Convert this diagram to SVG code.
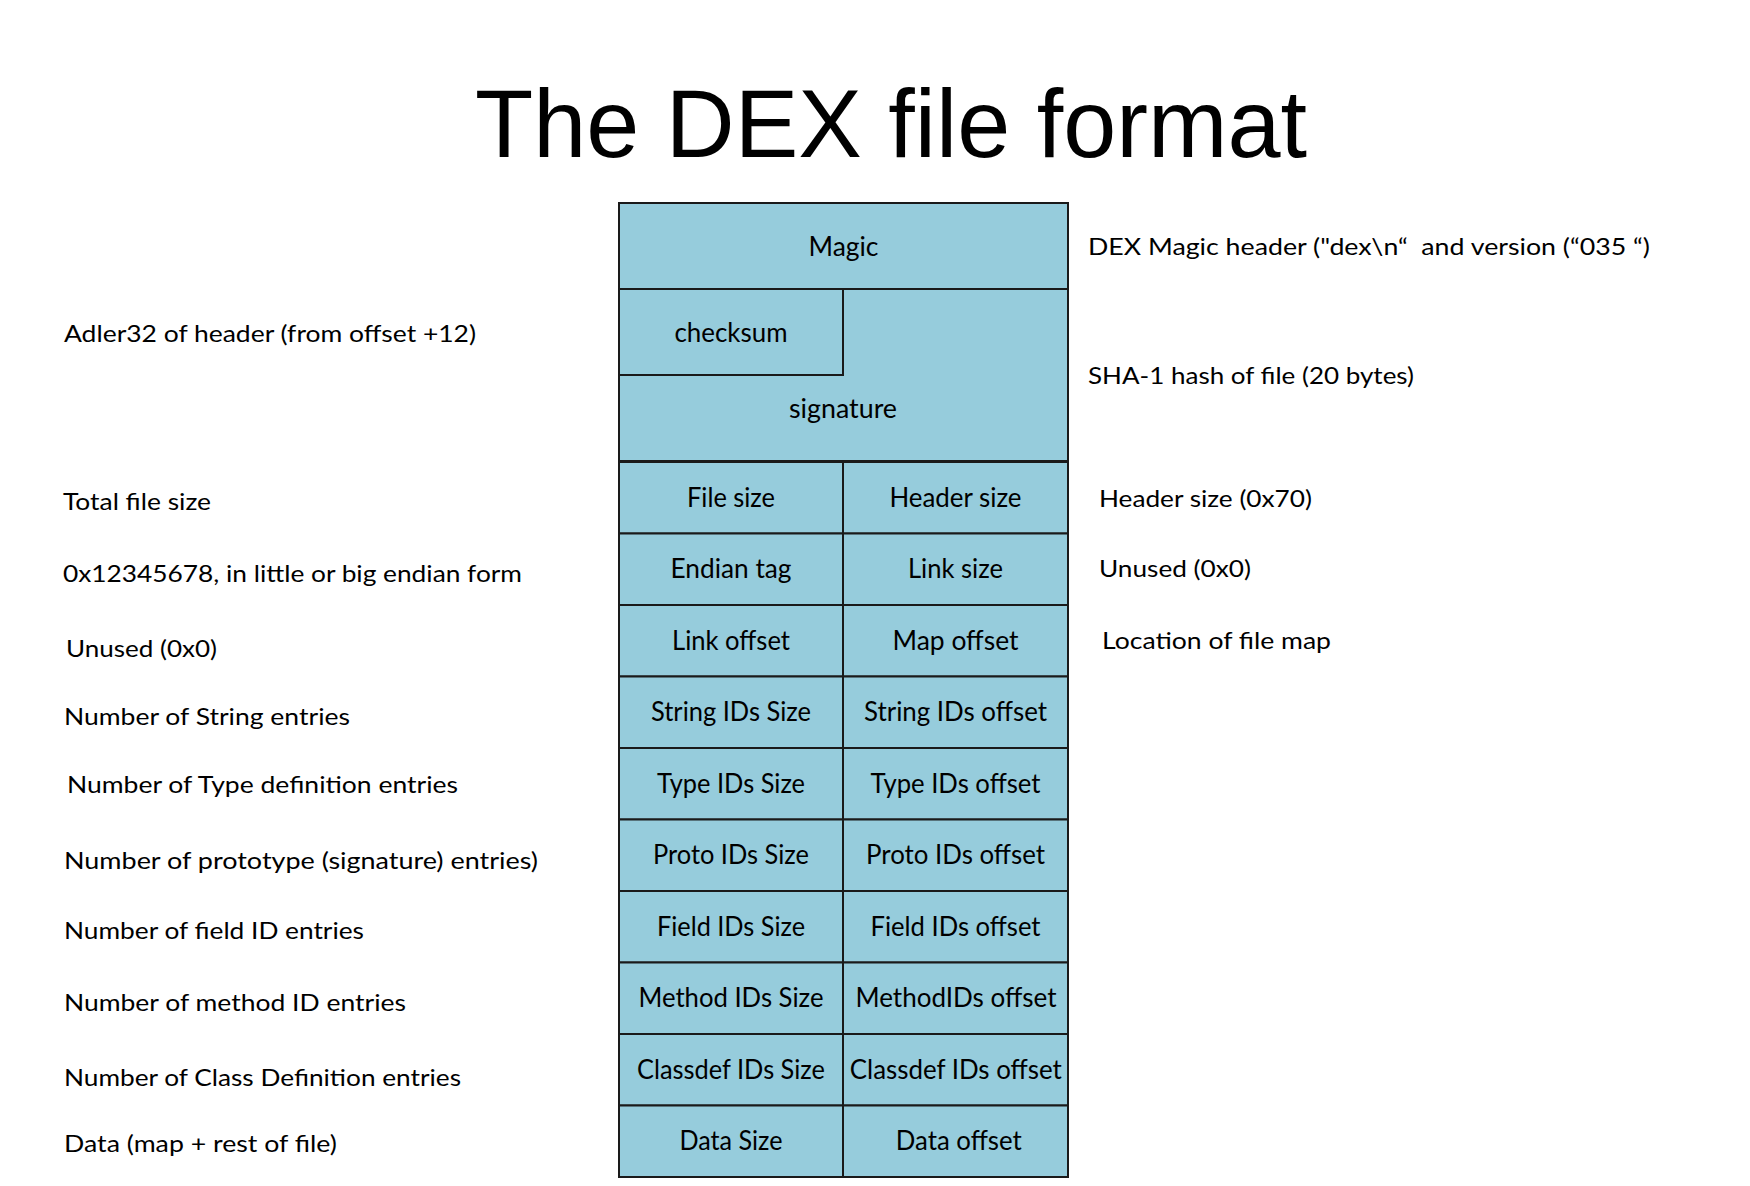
<svg xmlns="http://www.w3.org/2000/svg" width="1750" height="1186" viewBox="0 0 1750 1186">
<style>
.cell{fill:#96CCDC;stroke:#1a1a1a;stroke-width:2}
.ct{font-family:Lato,"Open Sans","Liberation Sans",sans-serif;font-size:26px;fill:#000;text-anchor:middle}
.lb{font-family:Lato,"Open Sans","Liberation Sans",sans-serif;font-size:24px;fill:#000}
.title{font-family:"Liberation Sans",Arial,sans-serif;font-size:96px;fill:#000}
</style>
<rect width="1750" height="1186" fill="#ffffff"/>
<text class="title" x="475" y="157" textLength="832" lengthAdjust="spacingAndGlyphs">The DEX file format</text>

<g id="magic"><rect class="cell" x="619" y="203" width="449" height="86"/><text class="ct" x="843.5" y="256" textLength="70" lengthAdjust="spacingAndGlyphs">Magic</text></g>
<g id="signature"><path class="cell" d="M619,375 L843,375 L843,289 L1068,289 L1068,461 L619,461 Z"/><text class="ct" x="843" y="418" textLength="108" lengthAdjust="spacingAndGlyphs">signature</text></g>
<g id="checksum"><rect class="cell" x="619" y="289" width="224" height="86"/><text class="ct" x="731" y="342" textLength="113" lengthAdjust="spacingAndGlyphs">checksum</text></g>

<g id="file-size"><rect class="cell" x="619" y="462" width="224" height="71.5"/><text class="ct" x="731" y="506.7" textLength="88" lengthAdjust="spacingAndGlyphs">File size</text></g>
<g id="header-size"><rect class="cell" x="843" y="462" width="225" height="71.5"/><text class="ct" x="955.5" y="506.7" textLength="132" lengthAdjust="spacingAndGlyphs">Header size</text></g>
<g id="endian-tag"><rect class="cell" x="619" y="533.5" width="224" height="71.5"/><text class="ct" x="731" y="578.2" textLength="121" lengthAdjust="spacingAndGlyphs">Endian tag</text></g>
<g id="link-size"><rect class="cell" x="843" y="533.5" width="225" height="71.5"/><text class="ct" x="955.5" y="578.2" textLength="95" lengthAdjust="spacingAndGlyphs">Link size</text></g>
<g id="link-offset"><rect class="cell" x="619" y="605" width="224" height="71.5"/><text class="ct" x="731" y="649.7" textLength="118" lengthAdjust="spacingAndGlyphs">Link offset</text></g>
<g id="map-offset"><rect class="cell" x="843" y="605" width="225" height="71.5"/><text class="ct" x="955.5" y="649.7" textLength="126" lengthAdjust="spacingAndGlyphs">Map offset</text></g>
<g id="string-ids-size"><rect class="cell" x="619" y="676.5" width="224" height="71.5"/><text class="ct" x="731" y="721.2" textLength="160" lengthAdjust="spacingAndGlyphs">String IDs Size</text></g>
<g id="string-ids-offset"><rect class="cell" x="843" y="676.5" width="225" height="71.5"/><text class="ct" x="955.5" y="721.2" textLength="183" lengthAdjust="spacingAndGlyphs">String IDs offset</text></g>
<g id="type-ids-size"><rect class="cell" x="619" y="748" width="224" height="71.5"/><text class="ct" x="731" y="792.7" textLength="148" lengthAdjust="spacingAndGlyphs">Type IDs Size</text></g>
<g id="type-ids-offset"><rect class="cell" x="843" y="748" width="225" height="71.5"/><text class="ct" x="955.5" y="792.7" textLength="170" lengthAdjust="spacingAndGlyphs">Type IDs offset</text></g>
<g id="proto-ids-size"><rect class="cell" x="619" y="819.5" width="224" height="71.5"/><text class="ct" x="731" y="864.2" textLength="156" lengthAdjust="spacingAndGlyphs">Proto IDs Size</text></g>
<g id="proto-ids-offset"><rect class="cell" x="843" y="819.5" width="225" height="71.5"/><text class="ct" x="955.5" y="864.2" textLength="179" lengthAdjust="spacingAndGlyphs">Proto IDs offset</text></g>
<g id="field-ids-size"><rect class="cell" x="619" y="891" width="224" height="71.5"/><text class="ct" x="731" y="935.7" textLength="148" lengthAdjust="spacingAndGlyphs">Field IDs Size</text></g>
<g id="field-ids-offset"><rect class="cell" x="843" y="891" width="225" height="71.5"/><text class="ct" x="955.5" y="935.7" textLength="170" lengthAdjust="spacingAndGlyphs">Field IDs offset</text></g>
<g id="method-ids-size"><rect class="cell" x="619" y="962.5" width="224" height="71.5"/><text class="ct" x="731" y="1007.2" textLength="185" lengthAdjust="spacingAndGlyphs">Method IDs Size</text></g>
<g id="method-ids-offset"><rect class="cell" x="843" y="962.5" width="225" height="71.5"/><text class="ct" x="956" y="1007.2" textLength="201" lengthAdjust="spacingAndGlyphs">MethodIDs offset</text></g>
<g id="classdef-ids-size"><rect class="cell" x="619" y="1034" width="224" height="71.5"/><text class="ct" x="731" y="1078.7" textLength="188" lengthAdjust="spacingAndGlyphs">Classdef IDs Size</text></g>
<g id="classdef-ids-offset"><rect class="cell" x="843" y="1034" width="225" height="71.5"/><text class="ct" x="955.8" y="1078.7" textLength="212" lengthAdjust="spacingAndGlyphs">Classdef IDs offset</text></g>
<g id="data-size"><rect class="cell" x="619" y="1105.5" width="224" height="71.5"/><text class="ct" x="731" y="1150.2" textLength="103" lengthAdjust="spacingAndGlyphs">Data Size</text></g>
<g id="data-offset"><rect class="cell" x="843" y="1105.5" width="225" height="71.5"/><text class="ct" x="958.8" y="1150.2" textLength="126" lengthAdjust="spacingAndGlyphs">Data offset</text></g>

<g id="connectors"></g>

<g id="labels-left">
<text class="lb" x="64" y="342" textLength="412" lengthAdjust="spacingAndGlyphs">Adler32 of header (from offset +12)</text>
<text class="lb" x="63" y="510" textLength="148" lengthAdjust="spacingAndGlyphs">Total file size</text>
<text class="lb" x="63" y="582" textLength="459" lengthAdjust="spacingAndGlyphs">0x12345678, in little or big endian form</text>
<text class="lb" x="66" y="657" textLength="151" lengthAdjust="spacingAndGlyphs">Unused (0x0)</text>
<text class="lb" x="64" y="725" textLength="286" lengthAdjust="spacingAndGlyphs">Number of String entries</text>
<text class="lb" x="67" y="793" textLength="391" lengthAdjust="spacingAndGlyphs">Number of Type definition entries</text>
<text class="lb" x="64" y="869" textLength="474" lengthAdjust="spacingAndGlyphs">Number of prototype (signature) entries)</text>
<text class="lb" x="64" y="939" textLength="300" lengthAdjust="spacingAndGlyphs">Number of field ID entries</text>
<text class="lb" x="64" y="1011" textLength="342" lengthAdjust="spacingAndGlyphs">Number of method ID entries</text>
<text class="lb" x="64" y="1086" textLength="397" lengthAdjust="spacingAndGlyphs">Number of Class Definition entries</text>
<text class="lb" x="64" y="1152" textLength="273" lengthAdjust="spacingAndGlyphs">Data (map + rest of file)</text>
</g>

<g id="labels-right">
<text class="lb" x="1088" y="255" textLength="562" lengthAdjust="spacingAndGlyphs" xml:space="preserve">DEX Magic header ("dex\n“  and version (“035 “)</text>
<text class="lb" x="1088" y="384" textLength="326" lengthAdjust="spacingAndGlyphs">SHA-1 hash of file (20 bytes)</text>
<text class="lb" x="1099" y="507" textLength="213" lengthAdjust="spacingAndGlyphs">Header size (0x70)</text>
<text class="lb" x="1099" y="577" textLength="152" lengthAdjust="spacingAndGlyphs">Unused (0x0)</text>
<text class="lb" x="1102" y="649" textLength="229" lengthAdjust="spacingAndGlyphs">Location of file map</text>
</g>
</svg>
